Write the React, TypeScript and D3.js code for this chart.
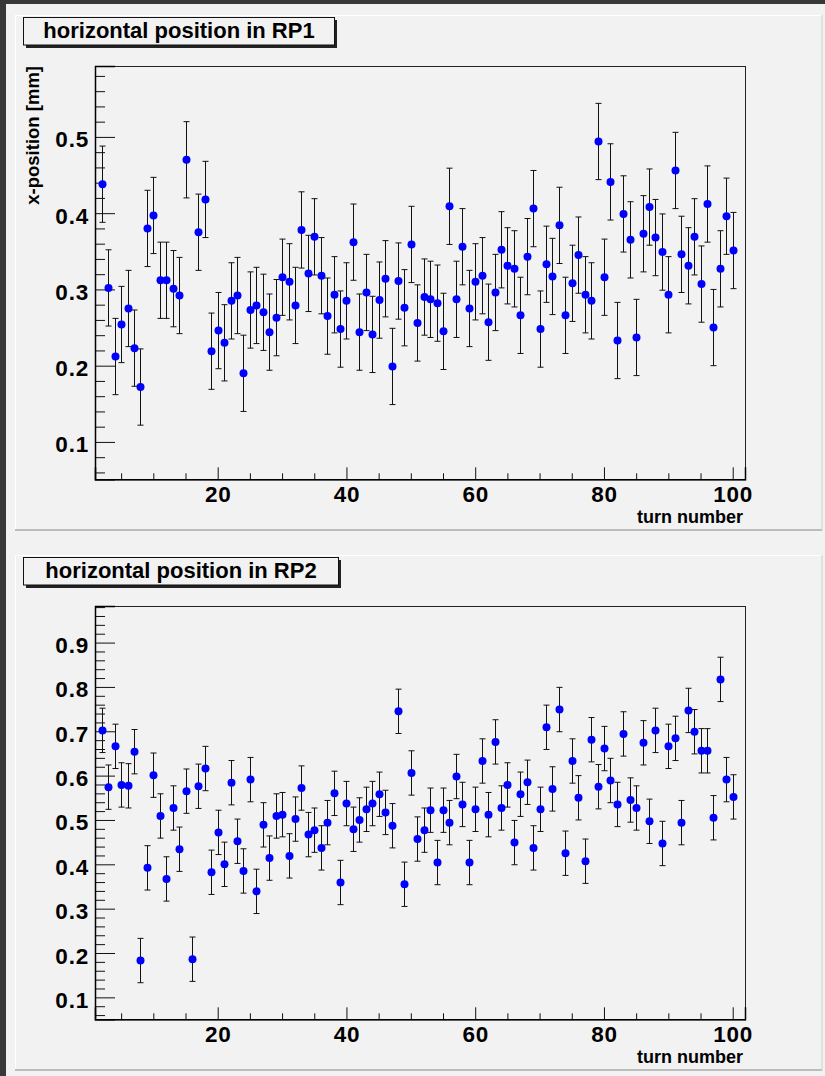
import React, { useRef, useEffect } from "react"
import * as d3 from "d3"

// turn numbers and measured horizontal position (mm), error bars are +-0.05 everywhere
const turnsRP1 = [2, 3, 4, 5, 6, 7, 8, 9, 10, 11, 12, 13, 14, 15, 17, 18, 19, 20, 21, 22, 23, 24, 25, 26, 27, 28, 29, 30,
    31, 32, 33, 34, 35, 36, 37, 38, 39, 40, 41, 42, 43, 44, 45, 46, 47, 48, 49, 50, 51, 52, 53, 54, 55, 56, 57, 58, 59, 60,
    61, 62, 63, 64, 65, 66, 67, 68, 69, 70, 71, 72, 73, 74, 75, 76, 77, 78, 79, 80, 81, 82, 83, 84, 85, 86, 87, 88, 89, 90,
    91, 92, 93, 94, 95, 96, 97, 98, 99, 100]
const xposRP1 = [0.438, 0.302, 0.212, 0.254, 0.275, 0.223, 0.172, 0.380, 0.397, 0.312, 0.312, 0.301, 0.292, 0.470,
    0.375, 0.418, 0.219, 0.246, 0.230, 0.285, 0.292, 0.190, 0.273, 0.279, 0.270, 0.244, 0.263, 0.316,
    0.310, 0.279, 0.378, 0.321, 0.369, 0.318, 0.265, 0.293, 0.248, 0.285, 0.362, 0.244, 0.296, 0.241, 0.286, 0.314,
    0.199, 0.311, 0.276, 0.359, 0.256, 0.290, 0.287, 0.282, 0.245, 0.409, 0.287, 0.356, 0.275, 0.310,
    0.318, 0.257, 0.296, 0.352, 0.331, 0.327, 0.266, 0.343, 0.406, 0.248, 0.333, 0.317, 0.384, 0.266, 0.308, 0.345,
    0.293, 0.285, 0.494, 0.316, 0.441, 0.233, 0.399, 0.365, 0.237, 0.373, 0.408, 0.368, 0.349, 0.293,
    0.456, 0.346, 0.331, 0.369, 0.307, 0.412, 0.250, 0.327, 0.396, 0.351]
const errRP1 = 0.05

const turnsRP2 = [2, 3, 4, 5, 6, 7, 8, 9, 10, 11, 12, 13, 14, 15, 16, 17, 18, 19, 20, 21, 22, 23, 24, 25, 26, 27, 28, 29, 30,
    31, 32, 33, 34, 35, 36, 37, 38, 39, 40, 41, 42, 43, 44, 45, 46, 47, 48, 49, 50, 51, 52, 53, 54, 55, 56, 57, 58, 59, 60,
    61, 62, 63, 64, 65, 66, 67, 68, 69, 70, 71, 72, 73, 74, 75, 76, 77, 78, 79, 80, 81, 82, 83, 84, 85, 86, 87, 88, 89, 90,
    91, 92, 93, 94, 95, 96, 97, 98, 99, 100]
const xposRP2 = [0.702, 0.574, 0.666, 0.579, 0.577, 0.654, 0.183, 0.392, 0.601, 0.509, 0.367, 0.527, 0.434, 0.565,
    0.186, 0.576, 0.616, 0.382, 0.472, 0.400, 0.584, 0.452, 0.385, 0.591, 0.339, 0.489, 0.414, 0.509, 0.512,
    0.419, 0.502, 0.572, 0.467, 0.477, 0.437, 0.494, 0.560, 0.359, 0.537, 0.479, 0.500, 0.524, 0.537, 0.558, 0.517,
    0.487, 0.745, 0.355, 0.606, 0.457, 0.477, 0.522, 0.404, 0.522, 0.494, 0.598, 0.535, 0.404, 0.524,
    0.633, 0.512, 0.676, 0.527, 0.579, 0.449, 0.558, 0.585, 0.437, 0.524, 0.709, 0.570, 0.749, 0.425, 0.633, 0.550,
    0.407, 0.681, 0.575, 0.661, 0.589, 0.535, 0.694, 0.545, 0.527, 0.674, 0.497, 0.702, 0.447, 0.666,
    0.684, 0.494, 0.747, 0.699, 0.656, 0.656, 0.505, 0.817, 0.591, 0.552]
const errRP2 = 0.05

const xTickLabels = [20, 40, 60, 80, 100]
const yTickLabelsRP1 = [0.1, 0.2, 0.3, 0.4, 0.5]
const yTickLabelsRP2 = [0.1, 0.2, 0.3, 0.4, 0.5, 0.6, 0.7, 0.8, 0.9]

const FONT = "'Liberation Sans', Arial, Helvetica, sans-serif"
const BG = "#f2f2f2"

const App = () => {
    let element = useRef(null)

    useEffect(() => {
        let svg = d3.select(element.current)
        svg.selectAll("*").remove()

        svg.append("rect").attr("width", 825).attr("height", 1076).attr("fill", BG)
        svg.append("rect").attr("width", 825).attr("height", 4).attr("fill", "#383838")
        svg.append("rect").attr("width", 6).attr("height", 1076).attr("fill", "#383838")

        const drawPanel = (off, title, boxW, turns, xpos, err, yDomain, yLabels, yTitle) => {
            let g = svg.append("g").attr("transform", "translate(0," + off + ")")

            // pad with bevel
            g.append("rect").attr("x", 15).attr("y", 15).attr("width", 807).attr("height", 515).attr("fill", BG)
            g.append("line").attr("x1", 15).attr("x2", 822).attr("y1", 15.5).attr("y2", 15.5).attr("stroke", "#fff")
            g.append("line").attr("x1", 15.5).attr("x2", 15.5).attr("y1", 15).attr("y2", 530).attr("stroke", "#fff")
            g.append("line").attr("x1", 15).attr("x2", 822).attr("y1", 530).attr("y2", 530).attr("stroke", "#bcbcbc").attr("stroke-width", 2)
            g.append("line").attr("x1", 822).attr("x2", 822).attr("y1", 15).attr("y2", 531).attr("stroke", "#cfcfcf").attr("stroke-width", 1)

            let margin = {left: 95, right: 745, top: 66, bottom: 479.3}
            let x = d3.scaleLinear().domain([0.94, 101.91]).range([margin.left, margin.right])
            let y = d3.scaleLinear().domain(yDomain).range([margin.bottom, margin.top])

            // frame
            g.append("rect")
                .attr("x", margin.left + 0.5).attr("y", margin.top + 0.5)
                .attr("width", margin.right - margin.left).attr("height", margin.bottom - margin.top)
                .attr("fill", BG).attr("stroke", "#222").attr("stroke-width", 1)

            // minor + major ticks, drawn inward
            let xMinor = d3.range(5, 101, 5).filter(v => xTickLabels.indexOf(v) < 0)
            g.append("g").attr("transform", "translate(0," + margin.bottom + ")")
                .call(d3.axisBottom(x).tickValues(xMinor).tickSize(-6).tickFormat(""))
                .call(a => a.select(".domain").remove())
            g.append("g").attr("transform", "translate(0," + margin.bottom + ")")
                .call(d3.axisBottom(x).tickValues(xTickLabels).tickSize(-12).tickPadding(8).tickFormat(d3.format("d")))
                .call(a => a.select(".domain").attr("stroke-width", 1.5))
                .call(a => a.selectAll("text").attr("dy", "0.71em").attr("y", 6.8))

            let yMinor = d3.range(Math.ceil(yDomain[0] * 50), Math.floor(yDomain[1] * 50) + 1)
                .map(v => v / 50).filter(v => Math.abs(v * 10 - Math.round(v * 10)) > 1e-6)
            g.append("g").attr("transform", "translate(" + margin.left + ",0)")
                .call(d3.axisLeft(y).tickValues(yMinor).tickSize(-10).tickFormat(""))
                .call(a => a.select(".domain").remove())
            g.append("g").attr("transform", "translate(" + margin.left + ",0)")
                .call(d3.axisLeft(y).tickValues(yLabels).tickSize(-20).tickPadding(6).tickFormat(d3.format(".1f")))
                .call(a => a.select(".domain").attr("stroke-width", 1.5))
                .call(a => a.selectAll("text").attr("dy", 10))

            g.selectAll(".tick line").attr("stroke", "#111").attr("stroke-width", 1)
            g.selectAll(".tick text")
                .attr("fill", "#000")
                .style("font-family", FONT).style("font-weight", "bold").style("font-size", "22.5px")
                .style("letter-spacing", "0.8px")

            // error bars
            let pts = turns.map((t, i) => ({t: t, v: xpos[i]}))
            let eb = g.append("g").attr("stroke", "#111").attr("stroke-width", 1)
            pts.forEach(d => {
                let px = Math.round(x(d.t)) + 0.5
                eb.append("line").attr("x1", px).attr("x2", px).attr("y1", y(d.v - err)).attr("y2", y(d.v + err))
                eb.append("line").attr("x1", px - 3).attr("x2", px + 3).attr("y1", y(d.v - err)).attr("y2", y(d.v - err))
                eb.append("line").attr("x1", px - 3).attr("x2", px + 3).attr("y1", y(d.v + err)).attr("y2", y(d.v + err))
            })
            g.append("g").selectAll("circle").data(pts).join("circle")
                .attr("cx", d => Math.round(x(d.t)) + 0.5)
                .attr("cy", d => y(d.v))
                .attr("r", 4)
                .attr("fill", "#0000ff")

            // axis titles
            g.append("text").attr("x", 743).attr("y", 523).attr("text-anchor", "end")
                .style("font-family", FONT).style("font-weight", "bold").style("font-size", "18px")
                .text("turn number")
            if (yTitle) {
                g.append("text").attr("transform", "translate(39," + margin.top + ") rotate(-90)")
                    .attr("text-anchor", "end")
                    .style("font-family", FONT).style("font-weight", "bold").style("font-size", "18.5px")
                    .text(yTitle)
            }

            // title pave with shadow
            g.append("rect").attr("x", 26).attr("y", 20).attr("width", boxW).attr("height", 28).attr("fill", "#222")
            g.append("rect").attr("x", 23.5).attr("y", 17.5).attr("width", boxW).attr("height", 27.5)
                .attr("fill", BG).attr("stroke", "#111").attr("stroke-width", 1)
            g.append("text").attr("x", 23.5 + boxW / 2).attr("y", 37.5).attr("text-anchor", "middle")
                .style("font-family", FONT).style("font-weight", "bold").style("font-size", "22px")
                .text(title)
        }

        drawPanel(0, "horizontal position in RP1", 311, turnsRP1, xposRP1, errRP1, [0.051, 0.593], yTickLabelsRP1, "x-position [mm]")
        drawPanel(540, "horizontal position in RP2", 315, turnsRP2, xposRP2, errRP2, [0.0505, 0.9825], yTickLabelsRP2, null)
    }, [])

    return (
        <svg ref={element} width={825} height={1076}
            style={{position: "absolute", left: 0, top: 0, display: "block"}}></svg>
    )
}

export default App
